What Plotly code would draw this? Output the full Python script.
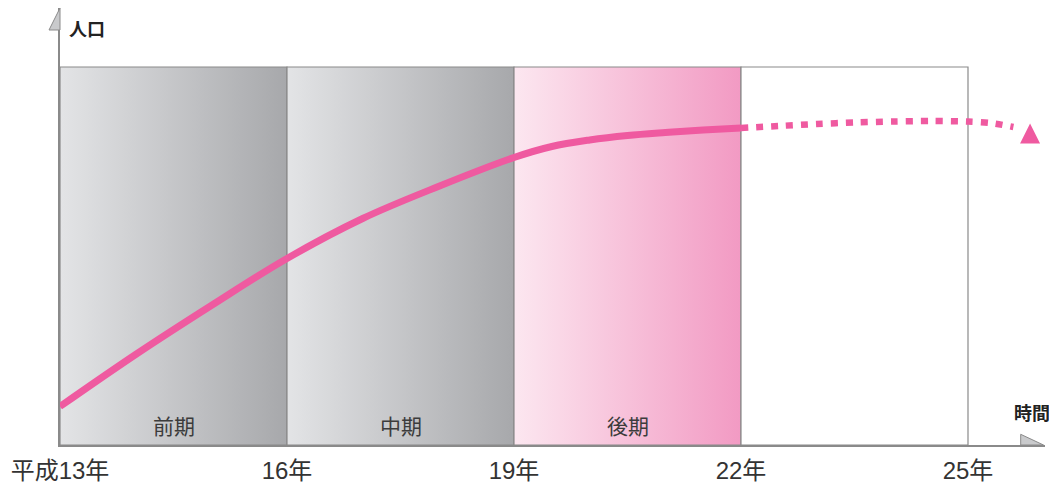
import plotly.graph_objects as go

# ---- data ----
period_edges = [13, 16, 19, 22, 25]
period_names = ["前期", "中期", "後期"]
tick_vals = [13, 16, 19, 22, 25]
tick_text = ["平成13年", "16年", "19年", "22年", "25年"]

actual_x = [13, 14, 15, 16, 17, 18, 19, 19.5, 20, 20.5, 21, 21.5, 22]
actual_y = [38.5, 90.5, 139.5, 186.5, 226.5, 258.5, 287.5, 298.5, 305, 309.5, 312.5, 315, 317]

forecast_x = [22, 22.5, 23, 23.5, 24, 24.5, 25, 25.3, 25.6]
forecast_y = [317, 319, 321, 322.5, 323.5, 324, 323.5, 322, 318]

arrow_x = [25.82]
arrow_y = [321.5]

panel_top = 378

PINK = "#EF5AA0"
GRAY_LINE = "#8a8a8a"
CJK = "Noto Sans CJK JP"

fig = go.Figure()

gray_scale = [[0, "#E3E4E6"], [1, "#A7A8AB"]]
pink_scale = [[0, "#FCE7F0"], [1, "#F29AC3"]]
fills = [gray_scale, gray_scale, pink_scale, None]

for i in range(4):
    x0, x1 = period_edges[i], period_edges[i + 1]
    tr = dict(
        x=[x0, x1, x1, x0, x0],
        y=[0, 0, panel_top, panel_top, 0],
        mode="lines",
        line=dict(color=GRAY_LINE, width=1.2),
        hoverinfo="skip",
        showlegend=False,
        fill="toself",
    )
    if fills[i] is not None:
        tr["fillcolor"] = "rgba(0,0,0,0)"
        tr["fillgradient"] = dict(type="horizontal", colorscale=fills[i])
    else:
        tr["fillcolor"] = "white"
    fig.add_trace(go.Scatter(**tr))

fig.add_trace(go.Scatter(
    x=actual_x, y=actual_y, mode="lines",
    line=dict(color=PINK, width=7, shape="spline", smoothing=1.0),
    showlegend=False, hoverinfo="skip",
))

fig.add_trace(go.Scatter(
    x=forecast_x, y=forecast_y, mode="lines",
    line=dict(color=PINK, width=6.5, shape="spline", smoothing=0.8, dash="7px,8px"),
    showlegend=False, hoverinfo="skip",
))

fig.add_trace(go.Scatter(
    x=arrow_x, y=arrow_y, mode="markers",
    marker=dict(symbol="arrow-up", size=20, color=PINK, line=dict(width=0)),
    showlegend=False, hoverinfo="skip",
))

for i, name in enumerate(period_names):
    fig.add_annotation(
        x=(period_edges[i] + period_edges[i + 1]) / 2, y=20,
        text=name, showarrow=False,
        font=dict(size=21, color="#3c3c3c", family=CJK),
    )

fig.add_annotation(
    xref="paper", yref="paper", x=(67 - 60) / 985, y=(445 - 28) / 437,
    text="人口", showarrow=False, xanchor="left", yanchor="middle",
    font=dict(size=18, color="#222", family=CJK, weight="bold"),
)
fig.add_annotation(
    xref="paper", yref="paper", x=(1032 - 60) / 985, y=(445 - 412) / 437,
    text="時間", showarrow=False, xanchor="center", yanchor="middle",
    font=dict(size=18, color="#222", family=CJK, weight="bold"),
)

# axis arrowheads
fig.add_shape(
    type="path", xref="paper", yref="paper",
    path=f"M 0 1.0 L 0 {(445-30)/437} L {(49-60)/985} {(445-30)/437} Z",
    fillcolor="#C9CACC", line=dict(color=GRAY_LINE, width=1),
)
fig.add_shape(
    type="path", xref="paper", yref="paper",
    path=f"M {(1020.7-60)/985} {(445-434.3)/437} L {(1020.7-60)/985} 0 L {(1043.5-60)/985} 0 Z",
    fillcolor="#C9CACC", line=dict(color=GRAY_LINE, width=1),
)

fig.update_xaxes(
    range=[13, 13 + 985 / (908 / 12)],
    tickvals=tick_vals, ticktext=tick_text,
    showgrid=False, zeroline=False,
    showline=True, linecolor=GRAY_LINE, linewidth=1.5,
    ticks="", ticklabelstandoff=3,
    tickfont=dict(size=24, color="#333", family="Liberation Sans, " + CJK),
)
fig.update_yaxes(
    range=[0, 437], showgrid=False, zeroline=False,
    showline=True, linecolor=GRAY_LINE, linewidth=1.5,
    showticklabels=False, ticks="",
)

# the page body adds an 8px offset, so the figure is sized to fit the window
fig.update_layout(
    width=1049, height=478,
    margin=dict(l=52, r=12, t=0, b=41),
    paper_bgcolor="white", plot_bgcolor="white",
    showlegend=False,
)

fig.write_html("out.html")
